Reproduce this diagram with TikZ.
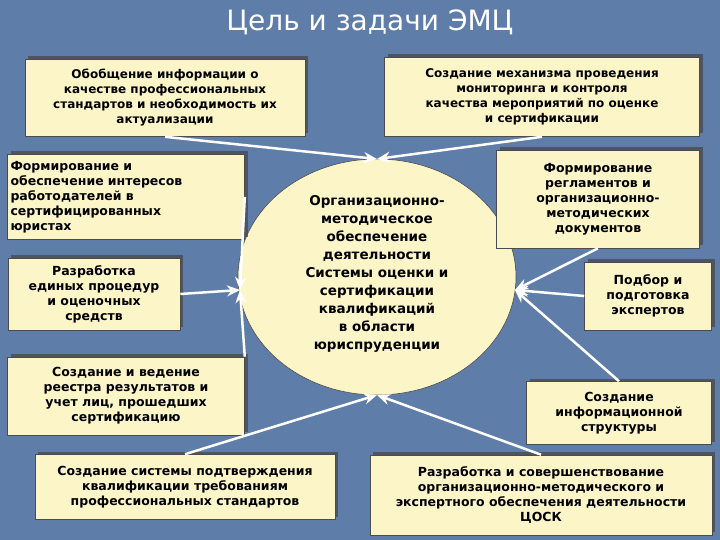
\documentclass[tikz,border=0pt]{standalone}
\usepackage{fontspec}
\setmainfont{DejaVu Sans}
\usetikzlibrary{arrows.meta,shadows,shapes.geometric}
\definecolor{bg}{HTML}{5E7DA8}
\definecolor{boxc}{HTML}{FCF5C8}
\tikzset{
 bx/.style={draw=black!70,fill=boxc,line width=0.6pt,inner sep=2pt,align=center,font=\fontsize{12.5}{15}\selectfont\bfseries,drop shadow={shadow xshift=3pt,shadow yshift=3pt,fill=black!70,opacity=0.8}},
 ar/.style={draw=white,line width=2.5pt,-{Stealth[length=13pt,width=11pt]}}
}
\begin{document}
\begin{tikzpicture}[x=1pt,y=-1pt]
\fill[bg] (0,0) rectangle (720,540);
\useasboundingbox (0,0) rectangle (720,540);
\node[white,font=\fontsize{28}{32}\selectfont] (t) at (370,22) {Цель и задачи ЭМЦ};
\node[draw=black!70,fill=boxc,ellipse,minimum width=278,minimum height=236,line width=0.6pt] (c) at (377,277) {};
\node[font=\fontsize{13.5}{18}\selectfont\bfseries,align=center] (ctext) at (377,274) {Организационно-\\методическое\\обеспечение\\деятельности\\Системы оценки и\\сертификации\\квалификаций\\в области\\юриспруденции};
\node[bx,minimum width=280,minimum height=77,font=\fontsize{12}{15}\selectfont\bfseries] (b1) at (165,98) {Обобщение информации о\\качестве профессиональных\\стандартов и необходимость их\\актуализации};
\node[bx,minimum width=315,minimum height=79,font=\fontsize{12}{15}\selectfont\bfseries] (b2) at (542,97) {Создание механизма проведения\\мониторинга и контроля\\качества мероприятий по оценке\\и сертификации};
\node[bx,minimum width=237,minimum height=85,align=left,text width=231] (b3) at (126,197) {Формирование и\\обеспечение интересов\\работодателей в\\сертифицированных\\юристах};
\node[bx,minimum width=172,minimum height=72] (b4) at (94,294) {Разработка\\единых процедур\\и оценочных\\средств};
\node[bx,minimum width=237,minimum height=78] (b5) at (126,396) {Создание и ведение\\реестра результатов и\\учет лиц, прошедших\\сертификацию};
\node[bx,minimum width=300,minimum height=65] (b6) at (185,487) {Создание системы подтверждения\\квалификации требованиям\\профессиональных стандартов};
\node[bx,minimum width=342,minimum height=80] (b7) at (541,495) {Разработка и совершенствование\\организационно-методического и\\экспертного обеспечения деятельности\\ЦОСК};
\node[bx,minimum width=203,minimum height=98] (b8) at (598,199) {Формирование\\регламентов и\\организационно-\\методических\\документов};
\node[bx,minimum width=127,minimum height=68] (b9) at (648,296) {Подбор и\\подготовка\\экспертов};
\node[bx,minimum width=185,minimum height=63] (b10) at (619,413) {Создание\\информационной\\структуры};
\coordinate (ct) at (377,159);
\coordinate (cb) at (377,395);
\coordinate (cl) at (240,290);
\coordinate (cr) at (515,290);
\draw[ar] (b1.south) -- (ct);
\draw[ar] (b2.south) -- (ct);
\draw[ar] (b3.east) -- (cl);
\draw[ar] (b4.east) -- (cl);
\draw[ar] (b5.north east) -- (cl);
\draw[ar] (b6.north) -- (cb);
\draw[ar] (b7.north) -- (cb);
\draw[ar] (b8.south) -- (cr);
\draw[ar] (b9.west) -- (cr);
\draw[ar] (b10.north) -- (cr);
\end{tikzpicture}
\end{document}
